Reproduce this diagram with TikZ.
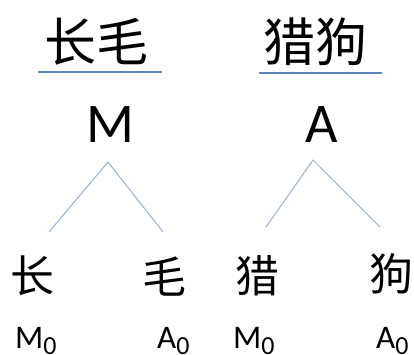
\documentclass[tikz,border=0pt]{standalone}
\usepackage{fontspec}
\setmainfont{Carlito}
\newfontfamily\cjk{Noto Sans CJK SC}
\definecolor{ulblue}{RGB}{95,135,185}
\definecolor{treeblue}{RGB}{150,175,210}
\newcommand{\lowsub}[1]{\raisebox{-6pt}{\fontsize{26}{26}\selectfont #1}}
\tikzset{
  bigcjk/.style={inner sep=0pt, font=\cjk\fontsize{52}{52}\selectfont},
  smallcjk/.style={inner sep=0pt, font=\cjk\fontsize{44}{44}\selectfont},
  bigletter/.style={inner sep=0pt, anchor=base, font=\fontsize{56}{56}\selectfont},
  sublabel/.style={inner sep=0pt, anchor=base west, font=\fontsize{33}{33}\selectfont},
  underline/.style={draw=ulblue, line width=1.1pt},
  branch/.style={draw=treeblue, line width=1pt}
}
\begin{document}
\begin{tikzpicture}[x=1pt,y=-1pt]
\clip (0,0) rectangle (414,354);
\useasboundingbox (0,0) rectangle (414,354);
\fill[white] (0,0) rectangle (414,354);
% top words
\node[bigcjk] (w1) at (96,42) {长毛};
\node[bigcjk] (w2) at (315,42) {猎狗};
\coordinate (u1a) at (38,72);
\coordinate (u1b) at (162,72);
\coordinate (u2a) at (259,73);
\coordinate (u2b) at (382,73);
\draw[underline] (u1a) -- (u1b);
\draw[underline] (u2a) -- (u2b);
% big letters
\node[bigletter] (M) at (110,142) {M};
\node[bigletter] (A) at (322,142) {A};
% tree apexes and ends
\coordinate (ap1) at (108,162);
\coordinate (l1) at (49,232);
\coordinate (r1) at (163,232);
\coordinate (ap2) at (313,160);
\coordinate (l2) at (266,227);
\coordinate (r2) at (380,227);
\draw[branch] (l1) -- (ap1) -- (r1);
\draw[branch] (l2) -- (ap2) -- (r2);
% bottom characters
\node[smallcjk] (c1) at (32,276) {长};
\node[smallcjk] (c2) at (164,277) {毛};
\node[smallcjk] (c3) at (257,276) {猎};
\node[smallcjk] (c4) at (391,274) {狗};
% labels
\node[sublabel] (s1) at (15,348) {M\lowsub{0}};
\node[sublabel] (s2) at (157,348) {A\lowsub{0}};
\node[sublabel] (s3) at (233,348) {M\lowsub{0}};
\node[sublabel] (s4) at (376,348) {A\lowsub{0}};
\end{tikzpicture}
\end{document}
